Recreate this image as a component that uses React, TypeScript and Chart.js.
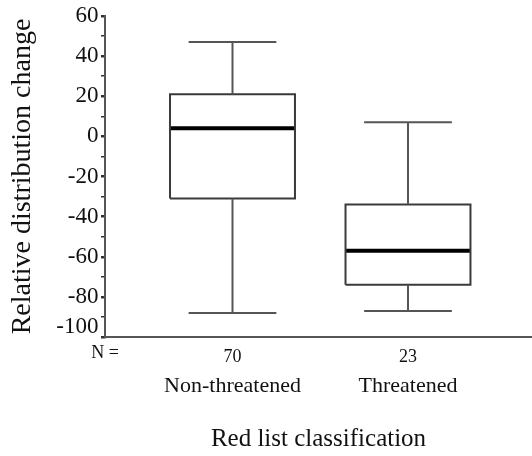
import React, { useEffect, useRef } from "react";
import { Chart, registerables } from "chart.js";

Chart.register(...registerables);

// ---- data ----
const categories = ["Non-threatened", "Threatened"];
const counts = ["70", "23"];
const whiskerMin = [-88, -87];
const q1 = [-31, -74];
const median = [4, -57];
const q3 = [21, -34];
const whiskerMax = [47, 7];
const yTicks = [60, 40, 20, 0, -20, -40, -60, -80, -100];

// ---- style constants ----
const BOX_HALF = 0.356;
const CAP_HALF = 0.25;
const SERIF = '"Liberation Serif", "Times New Roman", serif';

type P = { x: number; y: number | null };

function buildWhiskers(): P[] {
  const pts: P[] = [];
  categories.forEach((_, i) => {
    const x = i + 1;
    pts.push({ x, y: q3[i] }, { x, y: whiskerMax[i] }, { x, y: null });
    pts.push({ x: x - CAP_HALF, y: whiskerMax[i] }, { x: x + CAP_HALF, y: whiskerMax[i] }, { x, y: null });
    pts.push({ x, y: q1[i] }, { x, y: whiskerMin[i] }, { x, y: null });
    pts.push({ x: x - CAP_HALF, y: whiskerMin[i] }, { x: x + CAP_HALF, y: whiskerMin[i] }, { x, y: null });
  });
  return pts;
}

function buildBoxes(): P[] {
  const pts: P[] = [];
  categories.forEach((_, i) => {
    const x = i + 1;
    pts.push(
      { x: x - BOX_HALF, y: q1[i] },
      { x: x - BOX_HALF, y: q3[i] },
      { x: x + BOX_HALF, y: q3[i] },
      { x: x + BOX_HALF, y: q1[i] },
      { x: x - BOX_HALF, y: q1[i] },
      { x, y: null }
    );
  });
  return pts;
}

function buildMedians(): P[] {
  const pts: P[] = [];
  categories.forEach((_, i) => {
    const x = i + 1;
    pts.push({ x: x - BOX_HALF, y: median[i] }, { x: x + BOX_HALF, y: median[i] }, { x, y: null });
  });
  return pts;
}

const textPlugin = {
  id: "boxText",
  afterDraw(chart: any) {
    const { ctx } = chart;
    const x = chart.scales.x;
    const y = chart.scales.y;
    ctx.save();
    ctx.fillStyle = "#111";
    ctx.font = `23px ${SERIF}`;
    ctx.textAlign = "right";
    ctx.textBaseline = "middle";
    yTicks.forEach((v, i) => {
      const lift = i === yTicks.length - 1 ? 10 : 0;
      ctx.fillText(String(v), y.right - 6.5, y.getPixelForValue(v) - lift);
    });
    ctx.textAlign = "center";
    ctx.textBaseline = "alphabetic";
    ctx.font = `18px ${SERIF}`;
    ctx.fillText("N =", y.right, x.top + 21);
    counts.forEach((c, i) => ctx.fillText(c, x.getPixelForValue(i + 1), x.top + 25));
    ctx.font = `22px ${SERIF}`;
    categories.forEach((c, i) => ctx.fillText(c, x.getPixelForValue(i + 1), x.top + 55));
    ctx.restore();
  },
};

export default function App() {
  const ref = useRef<HTMLCanvasElement | null>(null);

  useEffect(() => {
    if (!ref.current) return;
    const chart = new Chart(ref.current, {
      type: "scatter",
      data: {
        datasets: [
          {
            data: buildWhiskers() as any,
            showLine: true,
            spanGaps: false,
            borderColor: "#555",
            borderWidth: 2,
            pointRadius: 0,
          },
          {
            data: buildBoxes() as any,
            showLine: true,
            spanGaps: false,
            borderColor: "#3a3a3a",
            borderWidth: 2,
            pointRadius: 0,
          },
          {
            data: buildMedians() as any,
            showLine: true,
            spanGaps: false,
            borderColor: "#000",
            borderWidth: 4,
            pointRadius: 0,
            borderCapStyle: "butt",
          },
        ],
      },
      options: {
        animation: false,
        responsive: false,
        devicePixelRatio: 1,
        layout: { padding: { top: 16, left: 0, right: 0, bottom: 0 } },
        plugins: { legend: { display: false }, tooltip: { enabled: false } },
        elements: { line: { tension: 0 } },
        scales: {
          x: {
            type: "linear",
            min: 0.2735,
            max: 2.7066,
            grid: { display: false },
            border: { display: true, color: "#555", width: 2 },
            ticks: { display: false },
            title: {
              display: true,
              text: "Red list classification",
              color: "#111",
              font: { family: SERIF, size: 25 },
              padding: { top: 0, bottom: 2 },
            },
            afterFit: (s: any) => {
              s.height = 119;
            },
          },
          y: {
            type: "linear",
            min: -100,
            max: 60,
            ticks: { display: false, stepSize: 10 },
            grid: {
              drawOnChartArea: false,
              drawTicks: true,
              tickLength: 4,
              color: "#333",
              lineWidth: (c: any) => (c.tick && c.tick.value % 20 === 0 ? 2.5 : 1.5),
            },
            border: { display: true, color: "#555", width: 2 },
            title: {
              display: true,
              text: "Relative distribution change",
              color: "#111",
              font: { family: SERIF, size: 28 },
              padding: { top: 6, bottom: 0 },
            },
            afterFit: (s: any) => {
              s.width = 105;
            },
          },
        },
      },
      plugins: [textPlugin],
    });
    return () => chart.destroy();
  }, []);

  return (
    <div style={{ position: "absolute", left: 0, top: 0, width: 532, height: 456, background: "#fff" }}>
      <canvas ref={ref} width={532} height={456} style={{ display: "block" }} />
    </div>
  );
}
